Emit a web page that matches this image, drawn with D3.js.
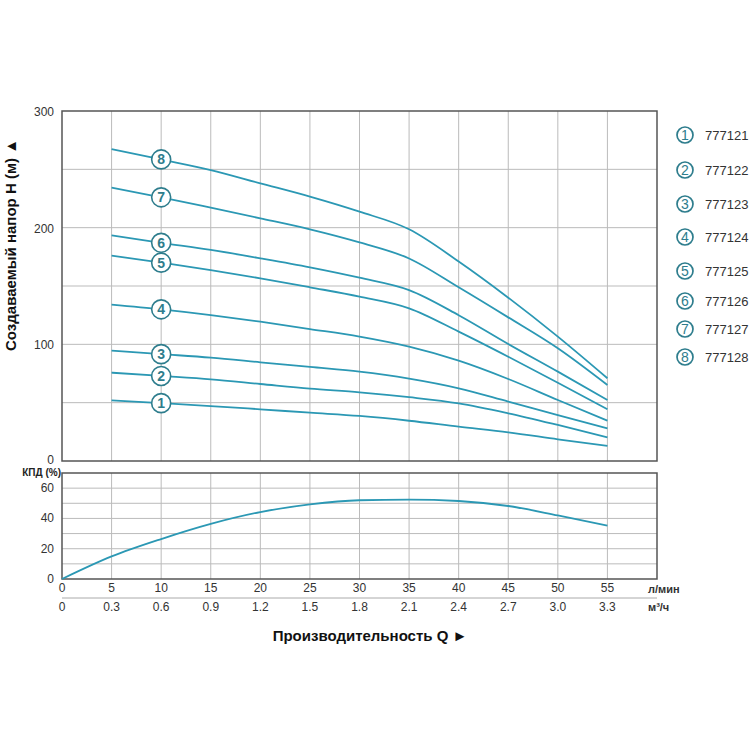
<!DOCTYPE html>
<html>
  <head>
    <meta charset="utf-8">
    <title>Pump curves</title>
    <style>
    body {
        margin: 0;
        background-color: #FFF;
        font-family: "Liberation Sans", Arial, sans-serif;
    }
    .grid line {
        stroke: #bbb;
        stroke-width: 1;
    }
    .frame {
        fill: none;
        stroke: #555;
        stroke-width: 1.5;
    }
    .tick-label {
        font-size: 12px;
        fill: #333;
    }
    </style>
    <script src="https://d3js.org/d3.v7.min.js"></script>
  </head>
  <body>
    <svg id="chart" width="750" height="750"></svg>

    <script>
    // flow points (l/min) where head curves were read
    var flow = [5, 10, 15, 20, 25, 30, 35, 40, 45, 50, 55];

    var head1 = [52, 49.6, 47.1, 44.3, 41.4, 38.6, 34.5, 29.4, 24.6, 18.6, 12.9];
    var head2 = [75.7, 72.9, 70, 66, 62, 58.9, 54.7, 49.4, 40.9, 30.9, 20.3];
    var head3 = [94.6, 91.6, 88.6, 84.6, 80.6, 76.6, 70.6, 62.3, 50.9, 39.4, 28];
    var head4 = [134, 130, 125.1, 119.4, 113.1, 106.6, 98, 86, 70.3, 52.3, 34.6];
    var head5 = [176, 170, 163.7, 156.6, 148.9, 140.9, 130.9, 110.9, 89.4, 67.1, 44.3];
    var head6 = [193.4, 187, 180.9, 173.7, 166, 157.1, 146.5, 125, 100.3, 76.6, 52.3];
    var head7 = [234.3, 226, 217.1, 208, 198.6, 187.4, 173.6, 148.9, 123.1, 96.6, 65.1];
    var head8 = [267.4, 258.5, 249.4, 238, 226.6, 213.7, 198.6, 171, 140, 106.6, 70.9];

    var heads = [head1, head2, head3, head4, head5, head6, head7, head8];
    var models = ["777121", "777122", "777123", "777124", "777125", "777126", "777127", "777128"];
    var legendY = [135, 170, 204, 237, 271, 301, 329, 357];

    // efficiency curve
    var effFlow = [0, 5, 10, 15, 20, 25, 30, 35, 40, 45, 50, 55];
    var eff = [0, 14.9, 26.4, 36.4, 44.2, 49.3, 52, 52.4, 51.5, 48.2, 42, 35.3];

    var lpmTicks = [0, 5, 10, 15, 20, 25, 30, 35, 40, 45, 50, 55];
    var m3hLabels = ["0", "0.3", "0.6", "0.9", "1.2", "1.5", "1.8", "2.1", "2.4", "2.7", "3.0", "3.3"];
    var headTicks = [0, 100, 200, 300];
    var effTicks = [0, 20, 40, 60];

    var lineColor = "#2b98b4";
    var labelColor = "#2e7d8d";

    var svg = d3.select("#chart");

    var x = d3.scaleLinear().domain([0, 60]).range([62, 657]);
    var yH = d3.scaleLinear().domain([0, 300]).range([461, 111]);
    var yE = d3.scaleLinear().domain([0, 70]).range([579, 473]);

    // ---- head chart grid
    var g1 = svg.append("g").attr("class", "grid");
    g1.selectAll("line.v").data(d3.range(5, 60, 5)).enter().append("line")
        .attr("x1", function(d) { return x(d); }).attr("x2", function(d) { return x(d); })
        .attr("y1", yH(300)).attr("y2", yH(0));
    g1.selectAll("line.h").data(d3.range(50, 300, 50)).enter().append("line")
        .attr("x1", x(0)).attr("x2", x(60))
        .attr("y1", function(d) { return yH(d); }).attr("y2", function(d) { return yH(d); });
    svg.append("rect").attr("class", "frame")
        .attr("x", x(0)).attr("y", yH(300))
        .attr("width", x(60) - x(0)).attr("height", yH(0) - yH(300));

    svg.selectAll("text.hy").data(headTicks).enter().append("text")
        .attr("class", "tick-label")
        .attr("x", 54).attr("y", function(d) { return yH(d) + (d === 0 ? 3 : 5); })
        .attr("text-anchor", "end")
        .text(function(d) { return d; });

    // ---- efficiency chart grid
    var g2 = svg.append("g").attr("class", "grid");
    g2.selectAll("line.v").data(d3.range(5, 60, 5)).enter().append("line")
        .attr("x1", function(d) { return x(d); }).attr("x2", function(d) { return x(d); })
        .attr("y1", yE(70)).attr("y2", yE(0));
    g2.selectAll("line.h").data(d3.range(10, 70, 10)).enter().append("line")
        .attr("x1", x(0)).attr("x2", x(60))
        .attr("y1", function(d) { return yE(d); }).attr("y2", function(d) { return yE(d); });
    svg.append("rect").attr("class", "frame")
        .attr("x", x(0)).attr("y", yE(70))
        .attr("width", x(60) - x(0)).attr("height", yE(0) - yE(70));

    svg.selectAll("text.ey").data(effTicks).enter().append("text")
        .attr("class", "tick-label")
        .attr("x", 54).attr("y", function(d) { return yE(d) + 4; })
        .attr("text-anchor", "end")
        .text(function(d) { return d; });

    svg.append("text")
        .attr("x", 61).attr("y", 476)
        .attr("text-anchor", "end")
        .style("font-size", "10px").style("font-weight", "bold").style("fill", "#222")
        .text("КПД (%)");

    // ---- x labels
    svg.selectAll("text.lpm").data(lpmTicks).enter().append("text")
        .attr("class", "tick-label")
        .attr("x", function(d) { return x(d); }).attr("y", 592)
        .attr("text-anchor", "middle")
        .text(function(d) { return d; });
    svg.append("line")
        .attr("x1", x(0)).attr("x2", x(60)).attr("y1", 598).attr("y2", 598)
        .attr("stroke", "#aaa").attr("stroke-width", 1);
    svg.selectAll("text.m3h").data(m3hLabels).enter().append("text")
        .attr("class", "tick-label")
        .attr("x", function(d, i) { return x(lpmTicks[i]); }).attr("y", 611)
        .attr("text-anchor", "middle")
        .text(function(d) { return d; });

    svg.append("text").attr("x", 648).attr("y", 593)
        .style("font-size", "11px").style("font-weight", "bold").style("fill", "#333")
        .text("л/мин");
    svg.append("text").attr("x", 648).attr("y", 611)
        .style("font-size", "11px").style("font-weight", "bold").style("fill", "#333")
        .text("м³/ч");

    // ---- axis titles
    svg.append("text")
        .attr("x", 370).attr("y", 641)
        .attr("text-anchor", "middle")
        .style("font-size", "15px").style("font-weight", "bold").style("fill", "#111")
        .text("Производительность Q ►");

    svg.append("text")
        .attr("transform", "translate(16,245) rotate(-90)")
        .attr("text-anchor", "middle")
        .style("font-size", "15px").style("font-weight", "bold").style("fill", "#111")
        .text("Создаваемый напор H (м) ▲");

    // ---- curves
    var headLine = d3.line()
        .x(function(d, i) { return x(flow[i]); })
        .y(function(d) { return yH(d); })
        .curve(d3.curveMonotoneX);

    svg.append("g").selectAll("path").data(heads).enter().append("path")
        .attr("d", headLine)
        .attr("fill", "none")
        .attr("stroke", lineColor)
        .attr("stroke-width", 1.8);

    var effLine = d3.line()
        .x(function(d, i) { return x(effFlow[i]); })
        .y(function(d) { return yE(d); })
        .curve(d3.curveMonotoneX);

    svg.append("path").datum(eff)
        .attr("d", effLine)
        .attr("fill", "none")
        .attr("stroke", lineColor)
        .attr("stroke-width", 1.8);

    // ---- number markers on curves (at 10 l/min)
    var marks = svg.append("g").selectAll("g").data(heads).enter().append("g")
        .attr("transform", function(d) { return "translate(" + x(flow[1]) + "," + yH(d[1]) + ")"; });
    marks.append("circle").attr("r", 9.5)
        .attr("fill", "#fff").attr("stroke", labelColor).attr("stroke-width", 1.6);
    marks.append("text")
        .attr("y", 5).attr("text-anchor", "middle")
        .style("font-size", "14px").style("font-weight", "bold").style("fill", labelColor)
        .text(function(d, i) { return i + 1; });

    // ---- legend
    var leg = svg.append("g").selectAll("g").data(models).enter().append("g")
        .attr("transform", function(d, i) { return "translate(685," + legendY[i] + ")"; });
    leg.append("circle").attr("r", 8)
        .attr("fill", "#fff").attr("stroke", labelColor).attr("stroke-width", 1.7);
    leg.append("text")
        .attr("y", 5).attr("text-anchor", "middle")
        .style("font-size", "14px").style("fill", labelColor)
        .text(function(d, i) { return i + 1; });
    leg.append("text")
        .attr("x", 20).attr("y", 4.5)
        .style("font-size", "13px").style("fill", "#333")
        .text(function(d) { return d; });
    </script>
  </body>
</html>
